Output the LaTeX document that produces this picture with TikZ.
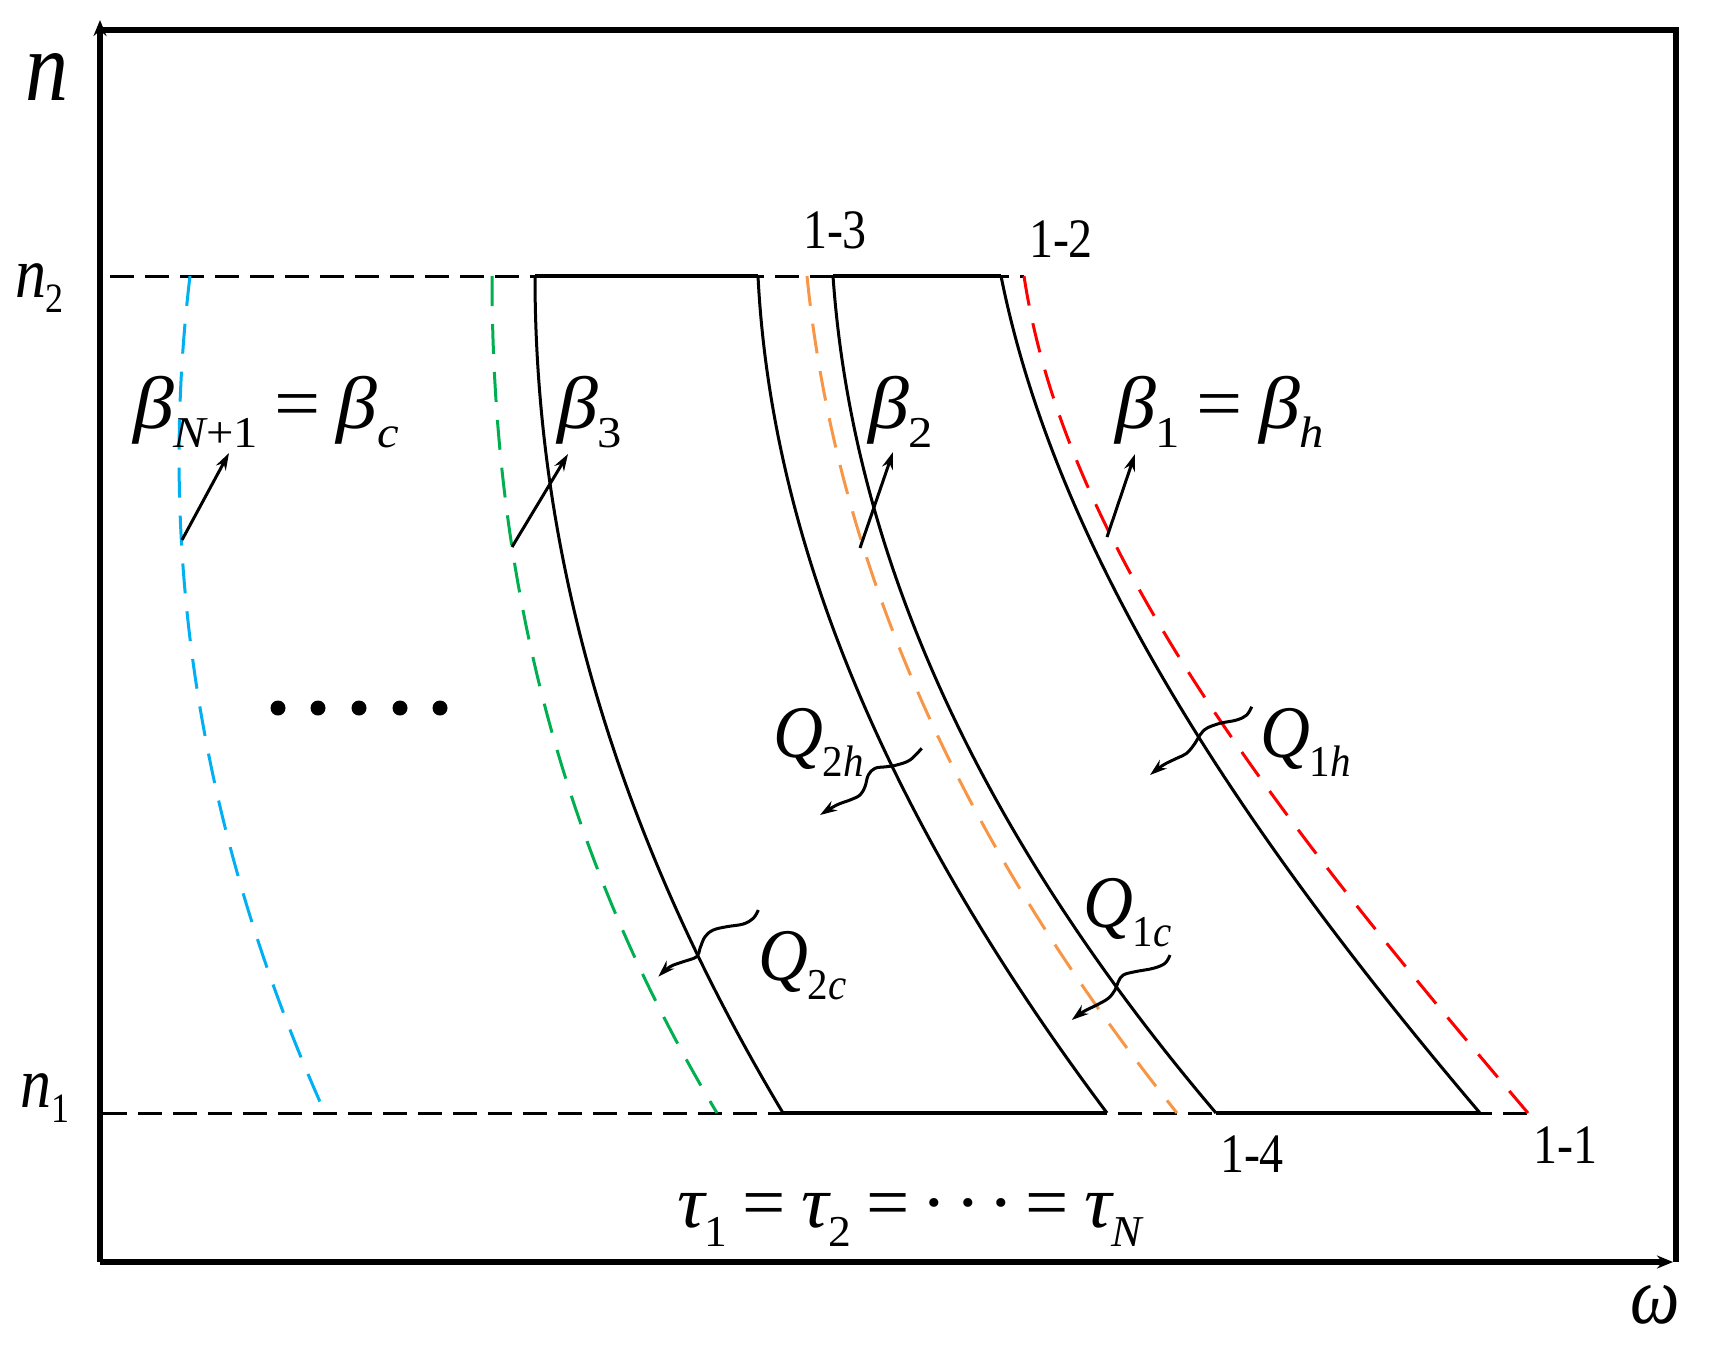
\documentclass[tikz,border=0pt]{standalone}
\usepackage{fontspec}
\setmainfont{Liberation Serif}
\usepackage{graphicx}
\usetikzlibrary{arrows.meta}
\definecolor{cblue}{RGB}{0,176,240}
\definecolor{cgreen}{RGB}{0,176,80}
\definecolor{corange}{RGB}{247,150,70}
\definecolor{cred}{RGB}{255,0,0}
\newcommand{\fsz}[1]{\fontsize{#1}{#1}\selectfont}
\newcommand{\sbs}[1]{\raisebox{-0.26em}{\fsz{38}#1}}
\newcommand{\st}[1]{\scalebox{1}[1.16]{#1}}
\newcommand{\stw}[2]{\scalebox{#1}[1.16]{#2}}
\begin{document}
\begin{tikzpicture}[x=1pt,y=-1pt,
  curve/.style={line width=3pt},
  seg/.style={line width=3.8pt},
  bline/.style={line width=3pt, dash pattern=on 24pt off 11pt},
  cdash/.style={line width=3pt, dash pattern=on 30pt off 18pt},
  frame/.style={line width=6pt},
  lbl/.style={inner sep=0pt, outer sep=0pt, anchor=base west},
  ptr/.style={line width=3pt, -{Stealth[length=17pt,width=11pt]}},
  wav/.style={line width=3pt, -{Stealth[length=17pt,width=11pt]}},
]
\useasboundingbox (0,0) rectangle (1711,1358);

% frame and axes
\coordinate (O) at (100,1262);
\coordinate (ytip) at (100,20);
\coordinate (xtip) at (1673,1262);
\coordinate (TL) at (100,30);
\coordinate (TR) at (1676,30);
\coordinate (BR) at (1676,1262);
\draw[frame] (TL) -- (TR) -- (BR);
\draw[frame, -{Stealth[length=16pt,width=13pt]}] (O) -- (ytip);
\draw[frame, -{Stealth[length=16pt,width=13pt]}] (O) -- (xtip);

% reference levels
\coordinate (n2a) at (110,276);
\coordinate (n2b) at (1024,276);
\coordinate (n1a) at (103,1113);
\coordinate (n1b) at (1528,1113);
\draw[bline] (n2a) -- (n2b);
\draw[bline] (n1a) -- (n1b);

% coloured dashed curves
\draw[cdash, cblue] (190,276) .. controls (156.5,555) and (199.5,834) .. (325,1113);
\draw[cdash, cgreen] (492,276) .. controls (492,555) and (550,834) .. (717,1113);
\draw[cdash, corange] (807,276) .. controls (835,555) and (954,834) .. (1177,1113);
\draw[cdash, cred] (1024,276) .. controls (1066,555) and (1291,834) .. (1528,1113);

% black curves
\coordinate (A1) at (535,276); \coordinate (A2) at (783,1113);
\coordinate (B1) at (758,276); \coordinate (B2) at (1107,1113);
\coordinate (C1) at (833,276); \coordinate (C2) at (1216,1113);
\coordinate (D1) at (1001,276); \coordinate (D2) at (1480,1113);
\draw[curve] (A1) .. controls (535,555) and (616,834) .. (A2);
\draw[curve] (B1) .. controls (772,555) and (898,834) .. (B2);
\draw[curve] (C1) .. controls (852.5,555) and (979,834) .. (C2);
\draw[curve] (D1) .. controls (1057,555) and (1243,834) .. (D2);
\draw[seg] (A1) -- (B1);
\draw[seg] (C1) -- (D1);
\draw[seg] (A2) -- (B2);
\draw[seg] (C2) -- (D2);

% dots
\foreach \x in {278,318,359,400,440} \fill (\x,708) circle[radius=7.5pt];

% axis labels
\node[lbl] (ln) at (25,100) {\st{\fsz{86}\itshape n}};
\node[lbl] (ln2) at (15,297) {\st{\fsz{62}\itshape n\raisebox{-0.22em}{\fsz{36}\upshape 2}}};
\node[lbl] (ln1) at (20,1107) {\st{\fsz{62}\itshape n\raisebox{-0.22em}{\fsz{36}\upshape 1}}};
\node[lbl] (lw) at (1630,1323) {\st{\fsz{70}\itshape ω}};

% point labels
\node[lbl] (l13) at (803,248) {\st{\fsz{48}1-3}};
\node[lbl] (l12) at (1029,257) {\st{\fsz{48}1-2}};
\node[lbl] (l14) at (1220,1172) {\st{\fsz{48}1-4}};
\node[lbl] (l11) at (1533,1163) {\st{\fsz{48}1-1}};

% beta labels
\node[lbl] (bN) at (133,428) {\stw{1.28}{\fsz{64}\itshape β\sbs{N\upshape +1}\hspace{0.2em}\upshape =\hspace{0.2em}\itshape β\sbs{c}}};
\node[lbl] (b3) at (557,428) {\stw{1.28}{\fsz{64}\itshape β\sbs{\upshape 3}}};
\node[lbl] (b2) at (868,428) {\stw{1.28}{\fsz{64}\itshape β\sbs{\upshape 2}}};
\node[lbl] (b1) at (1115,428) {\stw{1.28}{\fsz{64}\itshape β\sbs{\upshape 1}\hspace{0.2em}\upshape =\hspace{0.2em}\itshape β\sbs{h}}};

% Q labels
\node[lbl] (q2h) at (773,757) {\stw{1.08}{\fsz{64}\itshape Q\sbs{\upshape 2\itshape h}}};
\node[lbl] (q2c) at (758,980) {\stw{1.08}{\fsz{64}\itshape Q\sbs{\upshape 2\itshape c}}};
\node[lbl] (q1h) at (1260,757) {\stw{1.08}{\fsz{64}\itshape Q\sbs{\upshape 1\itshape h}}};
\node[lbl] (q1c) at (1083,927) {\stw{1.08}{\fsz{64}\itshape Q\sbs{\upshape 1\itshape c}}};

% tau label
\node[lbl] (tau) at (677,1227) {\stw{1.2}{\fsz{64}\itshape τ\sbs{\upshape 1}\hspace{0.2em}\upshape =\hspace{0.2em}\itshape τ\sbs{\upshape 2}\hspace{0.2em}\upshape =\hspace{0.15em}·\hspace{0.1em}·\hspace{0.1em}·\hspace{0.15em}=\hspace{0.2em}\itshape τ\sbs{N}}};

% beta pointers
\coordinate (pN0) at (182,540); \coordinate (pN1) at (229,453);
\coordinate (p30) at (512,547); \coordinate (p31) at (568,454);
\coordinate (p20) at (860,548); \coordinate (p21) at (893,452);
\coordinate (p10) at (1107,537); \coordinate (p11) at (1135,454);
\draw[ptr] (pN0) -- (pN1);
\draw[ptr] (p30) -- (p31);
\draw[ptr] (p20) -- (p21);
\draw[ptr] (p10) -- (p11);

% heat flow wavy arrows
\draw[wav] plot[smooth, tension=0.6] coordinates {(921.7,748.3) (910,760) (896.7,765) (886.7,766.7) (875,768.3) (868.3,775) (865,786.7) (860,795) (850,800) (836.7,805) (820,815)};
\draw[wav] plot[smooth, tension=0.6] coordinates {(758.3,910) (753.3,918.3) (743.3,924) (726.7,926.7) (713.3,930) (705,936.7) (700,948.3) (696.7,956.7) (683.3,961.7) (670,966.7) (658.3,976.7)};
\draw[wav] plot[smooth, tension=0.6] coordinates {(1251.7,706.7) (1246.7,715) (1236.7,720) (1220,723.3) (1206.7,728.3) (1200,735) (1195,743.3) (1186.7,753.3) (1176.7,758.3) (1163.3,765) (1150,775)};
\draw[wav] plot[smooth, tension=0.6] coordinates {(1170,955) (1165,963.3) (1153.3,968.3) (1135,971.7) (1123.3,975) (1118.3,981.7) (1115,990) (1108.3,998.3) (1096.7,1005) (1083.3,1011.7) (1071.7,1020)};
\end{tikzpicture}
\end{document}
